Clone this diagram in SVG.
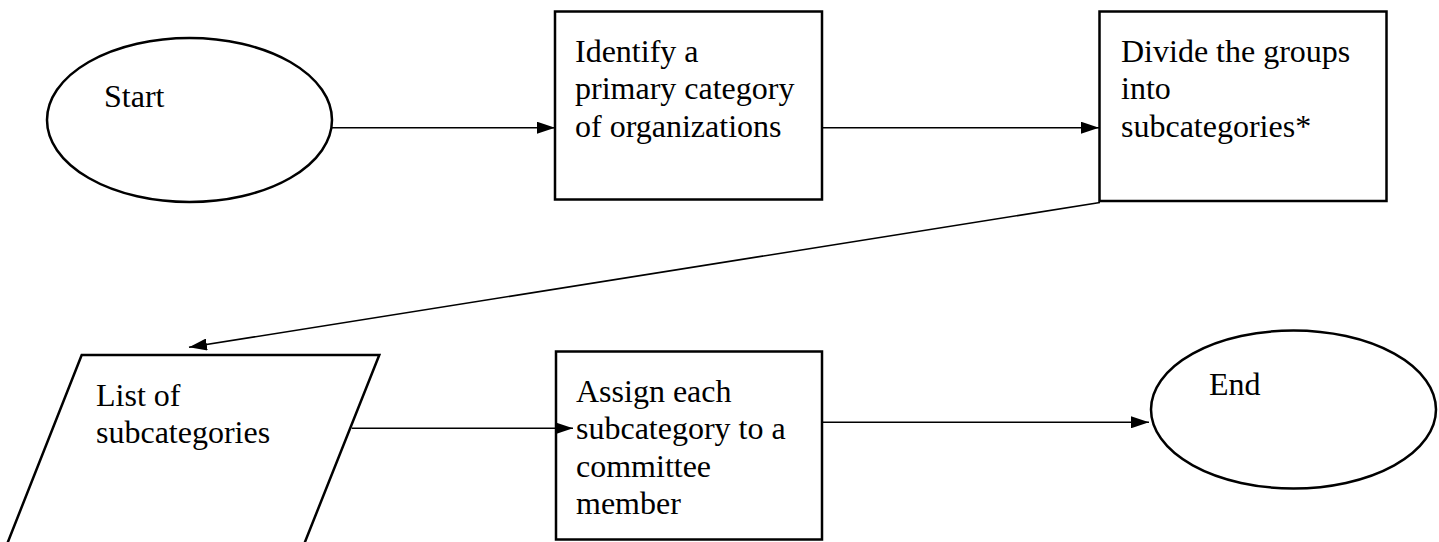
<svg xmlns="http://www.w3.org/2000/svg" width="1439" height="542" viewBox="0 0 1439 542">
<style>
.shape{fill:#fff;stroke:#000;stroke-width:2.5}
.conn{fill:none;stroke:#000;stroke-width:1.6}
.t{font-family:"Liberation Serif","Times New Roman",serif;font-size:32px;fill:#000}
</style>
<defs>
<marker id="ah" markerUnits="userSpaceOnUse" markerWidth="18" markerHeight="12" refX="18" refY="6" orient="auto">
<path d="M0,0 L18,6 L0,12 Z" fill="#000"/>
</marker>
</defs>
<rect width="1439" height="542" fill="#fff"/>
<g id="start">
<ellipse class="shape" cx="189.5" cy="120" rx="142.5" ry="82"/>
<text class="t" x="104" y="107">Start</text>
</g>
<g id="identify">
<rect class="shape" x="555" y="11.5" width="267" height="188"/>
<text class="t" x="575" y="62">Identify a</text>
<text class="t" x="575" y="99">primary category</text>
<text class="t" x="575" y="136.5">of organizations</text>
</g>
<g id="divide">
<rect class="shape" x="1099.5" y="11.5" width="287" height="189.5"/>
<text class="t" x="1121" y="62">Divide the groups</text>
<text class="t" x="1121" y="99">into</text>
<text class="t" x="1121" y="136.5">subcategories*</text>
</g>
<g id="list">
<polygon class="shape" points="81.7,355 379.3,355 297,562 0,562"/>
<text class="t" x="96" y="406">List of</text>
<text class="t" x="96" y="443">subcategories</text>
</g>
<g id="assign">
<rect class="shape" x="556" y="351.5" width="266" height="188"/>
<text class="t" x="576" y="402">Assign each</text>
<text class="t" x="576" y="439">subcategory to a</text>
<text class="t" x="576" y="476.5">committee</text>
<text class="t" x="576" y="514">member</text>
</g>
<g id="end">
<ellipse class="shape" cx="1293.5" cy="409.5" rx="142.5" ry="79"/>
<text class="t" x="1209" y="395">End</text>
</g>
<g id="connectors">
<line class="conn" x1="332" y1="127.7" x2="555" y2="127.7" marker-end="url(#ah)"/>
<line class="conn" x1="822" y1="127.7" x2="1099" y2="127.7" marker-end="url(#ah)"/>
<line class="conn" x1="1100" y1="202.5" x2="189" y2="347.3" marker-end="url(#ah)"/>
<line class="conn" x1="351.7" y1="428.3" x2="573" y2="428.3" marker-end="url(#ah)"/>
<line class="conn" x1="822" y1="422.3" x2="1149" y2="422.3" marker-end="url(#ah)"/>
</g>
</svg>
